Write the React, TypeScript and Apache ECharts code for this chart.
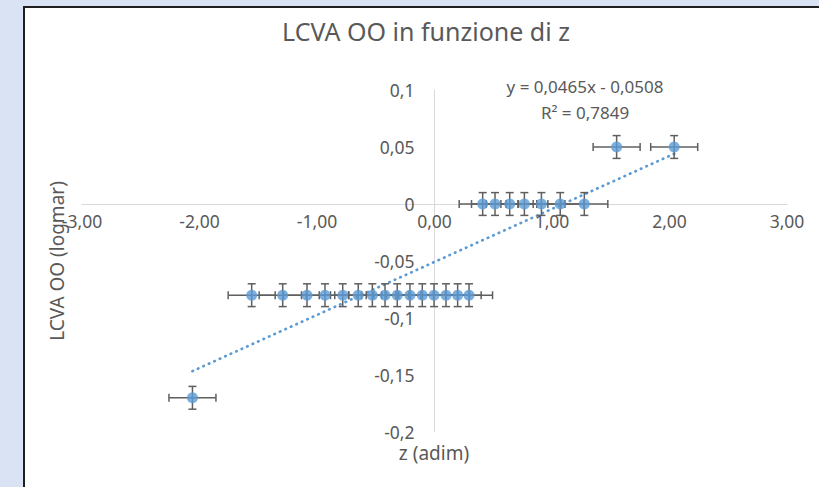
import React, { useEffect, useRef } from "react";
import * as echarts from "echarts";

// ---- data ----
const zValues: number[] = [
  -2.06,
  -1.556, -1.292, -1.085, -0.932, -0.781, -0.649, -0.529, -0.421, -0.317, -0.209, -0.104, -0.004, 0.098, 0.197, 0.294,
  0.41, 0.515, 0.64, 0.765, 0.91, 1.07, 1.275,
  1.55, 2.04,
];
const lcvaValues: number[] = [
  -0.17,
  -0.08, -0.08, -0.08, -0.08, -0.08, -0.08, -0.08, -0.08, -0.08, -0.08, -0.08, -0.08, -0.08, -0.08, -0.08,
  0, 0, 0, 0, 0, 0, 0,
  0.05, 0.05,
];
const zError = 0.2;
const lcvaError = 0.01;
const trendSlope = 0.0465;
const trendIntercept = -0.0508;
const rSquared = 0.7849;
const xTicks = { min: -3, max: 3, step: 1 };
const yTicks = { min: -0.2, max: 0.1, step: 0.05 };
const chartTitle = "LCVA OO in funzione di z";
const xAxisTitle = "z (adim)";
const yAxisTitle = "LCVA OO (logmar)";

const fmtComma = (v: number, d: number) => v.toFixed(d).replace(".", ",");

export default function App() {
  const ref = useRef<HTMLDivElement>(null);
  useEffect(() => {
    if (!ref.current) return;
    const chart = echarts.init(ref.current, undefined, { renderer: "svg" });
    const W = 819;
    const H = 487;
    const grid = { left: 82, right: 32, top: 90, bottom: 55 };
    const gw = W - grid.left - grid.right;
    const gh = H - grid.top - grid.bottom;
    // place axes where the other axis is zero (crossing axes)
    const yZeroFromBottom = ((0 - yTicks.min) / (yTicks.max - yTicks.min)) * gh;
    const xZeroFromLeft = ((0 - xTicks.min) / (xTicks.max - xTicks.min)) * gw;

    const points = zValues.map((x, i) => [x, lcvaValues[i]]);
    const errData = zValues.map((x, i) => [x, lcvaValues[i], zError, lcvaError]);
    const xMin = Math.min(...zValues);
    const xMax = Math.max(...zValues);
    const trend = [
      [xMin, trendSlope * xMin + trendIntercept],
      [xMax, trendSlope * xMax + trendIntercept],
    ];
    const font = "Noto Sans";
    const textColor = "#595959";
    const eqText = `y = ${fmtComma(trendSlope, 4)}x - ${fmtComma(-trendIntercept, 4)}`;
    const r2Text = `R² = ${fmtComma(rSquared, 4)}`;

    chart.setOption({
      animation: false,
      grid: { ...grid, containLabel: false, outerBoundsMode: "none" },
      xAxis: {
        type: "value",
        min: xTicks.min,
        max: xTicks.max,
        interval: xTicks.step,
        position: "bottom",
        offset: -yZeroFromBottom,
        splitLine: { show: false },
        axisTick: { show: false },
        axisLine: { onZero: false, lineStyle: { color: "#d9d9d9", width: 1 } },
        axisLabel: {
          color: textColor,
          fontFamily: font,
          fontSize: 17.5,
          margin: 8,
          formatter: (v: number) => fmtComma(v, 2),
        },
      },
      yAxis: {
        type: "value",
        min: yTicks.min,
        max: yTicks.max,
        interval: yTicks.step,
        position: "left",
        offset: -xZeroFromLeft,
        splitLine: { show: false },
        axisTick: { show: false },
        axisLine: { show: true, onZero: false, lineStyle: { color: "#d9d9d9", width: 1 } },
        axisLabel: {
          color: textColor,
          fontFamily: font,
          fontSize: 17.5,
          margin: 20,
          formatter: (v: number) => {
            const r = parseFloat(v.toFixed(3));
            return r === 0 ? "0" : String(r).replace(".", ",");
          },
        },
      },
      graphic: [
        {
          type: "text",
          x: 426,
          y: 31,
          style: { text: chartTitle, fill: textColor, font: `25px "${font}"`, textAlign: "center", textVerticalAlign: "middle" },
        },
        {
          type: "text",
          x: 585,
          y: 86,
          style: { text: eqText, fill: textColor, font: `17px "${font}"`, textAlign: "center", textVerticalAlign: "middle" },
        },
        {
          type: "text",
          x: 585,
          y: 112,
          style: { text: r2Text, fill: textColor, font: `17px "${font}"`, textAlign: "center", textVerticalAlign: "middle" },
        },
        {
          type: "text",
          x: 434,
          y: 453,
          style: { text: xAxisTitle, fill: textColor, font: `19px "${font}"`, textAlign: "center", textVerticalAlign: "middle" },
        },
        {
          type: "text",
          x: 57,
          y: 261,
          rotation: Math.PI / 2,
          style: { text: yAxisTitle, fill: textColor, font: `19px "${font}"`, textAlign: "center", textVerticalAlign: "middle" },
        },
      ],
      series: [
        {
          type: "line",
          data: trend,
          symbol: "none",
          z: 3,
          lineStyle: { color: "#5b9bd5", width: 2.7, type: [0.5, 5.5], cap: "round" },
        },
        {
          type: "custom",
          data: errData,
          z: 4,
          encode: { x: 0, y: 1 },
          renderItem: (params: any, api: any) => {
            const x = api.value(0);
            const y = api.value(1);
            const xe = api.value(2);
            const ye = api.value(3);
            const c = api.coord([x, y]);
            const l = api.coord([x - xe, y]);
            const r = api.coord([x + xe, y]);
            const t = api.coord([x, y + ye]);
            const b = api.coord([x, y - ye]);
            const cap = 4;
            const style = { stroke: "#5f5f5f", lineWidth: 1.5 };
            const line = (x1: number, y1: number, x2: number, y2: number) => ({
              type: "line",
              shape: { x1, y1, x2, y2 },
              style,
            });
            return {
              type: "group",
              children: [
                line(l[0], c[1], r[0], c[1]),
                line(l[0], c[1] - cap, l[0], c[1] + cap),
                line(r[0], c[1] - cap, r[0], c[1] + cap),
                line(c[0], t[1], c[0], b[1]),
                line(c[0] - cap, t[1], c[0] + cap, t[1]),
                line(c[0] - cap, b[1], c[0] + cap, b[1]),
              ],
            };
          },
        },
        {
          type: "scatter",
          data: points,
          symbol: "circle",
          symbolSize: 11,
          z: 5,
          itemStyle: { color: "#5b9bd5" },
        },
      ],
    });
    return () => chart.dispose();
  }, []);

  return (
    <div style={{ position: "fixed", left: 0, top: 0, width: 819, height: 487, background: "#dae3f3", overflow: "hidden" }}>
      <div
        style={{
          position: "absolute",
          left: 23,
          top: 6,
          width: 900,
          height: 600,
          background: "#ffffff",
          borderLeft: "2px solid #1f1f1f",
          borderTop: "2px solid #1f1f1f",
        }}
      />
      <div ref={ref} style={{ position: "absolute", left: 0, top: 0, width: 819, height: 487 }} />
    </div>
  );
}
